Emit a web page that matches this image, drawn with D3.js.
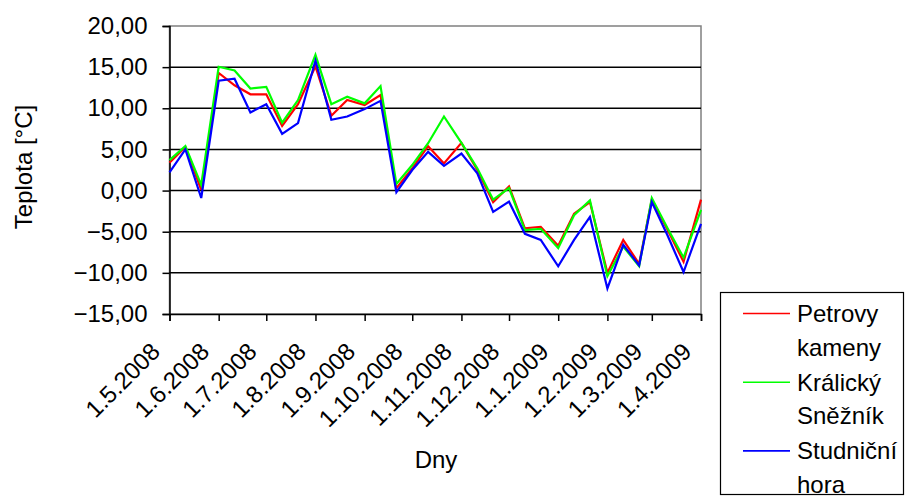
<!DOCTYPE html>
<html>
<head>
<meta charset="utf-8">
<script src="https://cdn.jsdelivr.net/npm/d3@7"></script>
<style>
  html, body { margin: 0; padding: 0; background: #fff; }
  svg { display: block; font-family: Arial, "Liberation Sans", sans-serif; }
</style>
</head>
<body>
<svg id="chart" width="906" height="497"></svg>
<script>
// Dekad measurement dates (1st, 11th, 21st of each month)
const dates = [
  "1.5.2008","11.5.2008","21.5.2008","1.6.2008","11.6.2008","21.6.2008",
  "1.7.2008","11.7.2008","21.7.2008","1.8.2008","11.8.2008","21.8.2008",
  "1.9.2008","11.9.2008","21.9.2008","1.10.2008","11.10.2008","21.10.2008",
  "1.11.2008","11.11.2008","21.11.2008","1.12.2008","11.12.2008","21.12.2008",
  "1.1.2009","11.1.2009","21.1.2009","1.2.2009","11.2.2009","21.2.2009",
  "1.3.2009","11.3.2009","21.3.2009","1.4.2009"
];

// Temperatures [°C] per station
const petrovyKameny = [
  3.4, 5.3, 0.1, 14.3, 12.8, 11.7,
  11.7, 7.85, 10.5, 15.1, 9.1, 11.0,
  10.4, 11.6, 0.3, 2.7, 5.4, 3.3,
  5.8, 2.5, -1.4, 0.5, -4.6, -4.4,
  -6.7, -2.8, -1.4, -10.0, -6.0, -8.9,
  -1.1, -4.8, -8.65, -1.1
];
const kralickySneznik = [
  3.7, 5.4, 0.7, 15.05, 14.6, 12.4,
  12.6, 8.25, 11.0, 16.5, 10.5, 11.4,
  10.6, 12.7, 0.8, 3.1, 5.75, 9.0,
  5.8, 2.7, -1.1, 0.3, -4.8, -4.65,
  -7.0, -3.0, -1.2, -10.4, -6.8, -9.2,
  -0.9, -4.6, -8.15, -2.35
];
const studnicniHora = [
  2.2, 5.0, -0.9, 13.35, 13.6, 9.5,
  10.5, 6.9, 8.2, 15.8, 8.6, 9.0,
  9.9, 10.9, -0.2, 2.5, 4.7, 3.0,
  4.5, 2.1, -2.6, -1.35, -5.25, -6.0,
  -9.2, -6.0, -3.2, -11.9, -6.6, -9.1,
  -1.4, -5.5, -9.9, -4.05
];

const yTicks = [20, 15, 10, 5, 0, -5, -10, -15];
const xTickLabels = [
  "1.5.2008","1.6.2008","1.7.2008","1.8.2008","1.9.2008","1.10.2008",
  "1.11.2008","1.12.2008","1.1.2009","1.2.2009","1.3.2009","1.4.2009"
];

const seriesNames = [["Petrovy", "kameny"], ["Králický", "Sněžník"], ["Studniční", "hora"]];
const seriesValues = [petrovyKameny, kralickySneznik, studnicniHora];
const seriesColors = ["#ff0000", "#00ff00", "#0000ff"];

const parse = d3.timeParse("%d.%m.%Y");
const svg = d3.select("#chart");
const FONT = 24;

const plot = { left: 169.5, right: 701, top: 26, bottom: 314 };

const x = d3.scaleTime()
  .domain([parse(xTickLabels[0]), parse(xTickLabels[xTickLabels.length - 1])])
  .range([plot.left, plot.right]);
const y = d3.scaleLinear().domain([-15, 20]).range([plot.bottom, plot.top]);

// Plot area frame
svg.append("rect")
  .attr("x", plot.left).attr("y", plot.top)
  .attr("width", plot.right - plot.left).attr("height", plot.bottom - plot.top)
  .attr("fill", "#fff").attr("stroke", "#808080").attr("stroke-width", 1.5);

// Horizontal gridlines
svg.append("g").selectAll("line")
  .data(yTicks.filter(v => v !== 20 && v !== -15))
  .join("line")
  .attr("x1", plot.left).attr("x2", plot.right)
  .attr("y1", d => y(d)).attr("y2", d => y(d))
  .attr("stroke", "#000").attr("stroke-width", 1.5);

// Y axis
const yAxis = svg.append("g")
  .attr("transform", `translate(${plot.left},0)`)
  .call(d3.axisLeft(y).tickValues(yTicks).tickSize(7).tickPadding(15)
    .tickFormat(d => d3.format(".2f")(d).replace(".", ",")));
yAxis.select(".domain").attr("stroke", "#000").attr("stroke-width", 1.5);
yAxis.selectAll(".tick line").attr("stroke", "#000").attr("stroke-width", 1.5);
yAxis.selectAll(".tick text")
  .attr("font-size", FONT).attr("fill", "#000").attr("font-family", "Arial, 'Liberation Sans', sans-serif");

// X axis (date scale, monthly ticks)
const xAxis = svg.append("g")
  .attr("transform", `translate(0,${plot.bottom})`)
  .call(d3.axisBottom(x).tickValues(xTickLabels.map(parse)).tickSize(7).tickFormat(""));
xAxis.select(".domain").attr("stroke", "#000").attr("stroke-width", 1.5);
xAxis.selectAll(".tick line").attr("stroke", "#000").attr("stroke-width", 1.5);

// Rotated month labels
svg.append("g").selectAll("text")
  .data(xTickLabels)
  .join("text")
  .attr("transform", d => `translate(${x(parse(d)) - 8},353) rotate(-45)`)
  .attr("text-anchor", "end")
  .attr("font-size", FONT)
  .attr("fill", "#000")
  .text(d => d);

// Axis titles
svg.append("text")
  .attr("transform", "translate(32,167) rotate(-90)")
  .attr("text-anchor", "middle")
  .attr("font-size", FONT)
  .text("Teplota [°C]");
svg.append("text")
  .attr("x", 436).attr("y", 468)
  .attr("text-anchor", "middle")
  .attr("font-size", FONT)
  .text("Dny");

// Series lines
const line = d3.line()
  .x((d, i) => x(parse(dates[i])))
  .y(d => y(d));
svg.append("g").selectAll("path")
  .data(seriesValues)
  .join("path")
  .attr("d", d => line(d))
  .attr("fill", "none")
  .attr("stroke", (d, i) => seriesColors[i])
  .attr("stroke-width", 2.2)
  .attr("stroke-linejoin", "miter");

// Legend
const legend = svg.append("g");
legend.append("rect")
  .attr("x", 720.5).attr("y", 292.5).attr("width", 183).attr("height", 202)
  .attr("fill", "#fff").attr("stroke", "#000").attr("stroke-width", 1.2);
const entry = legend.selectAll("g.entry")
  .data(seriesNames)
  .join("g")
  .attr("class", "entry")
  .attr("transform", (d, i) => `translate(0,${313.5 + i * 68.7})`);
entry.append("line")
  .attr("x1", 743).attr("x2", 790).attr("y1", 0).attr("y2", 0)
  .attr("stroke", (d, i) => seriesColors[i]).attr("stroke-width", 1.6);
entry.append("text")
  .attr("x", 797).attr("y", 8.5)
  .attr("font-size", FONT)
  .text(d => d[0]);
entry.append("text")
  .attr("x", 797).attr("y", 42)
  .attr("font-size", FONT)
  .text(d => d[1]);
</script>
</body>
</html>
